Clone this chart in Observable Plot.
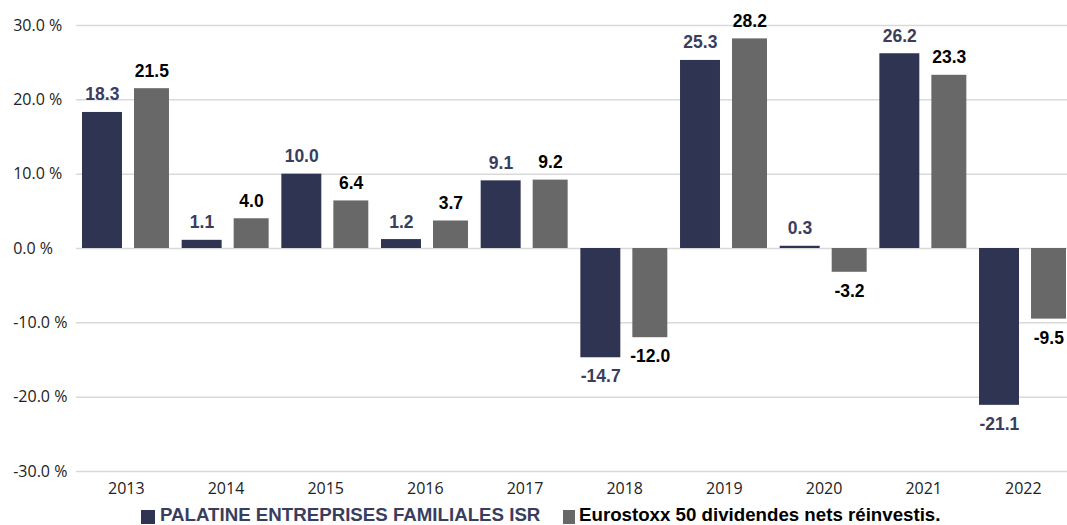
<!DOCTYPE html>
<html>
<head>
<meta charset="utf-8">
<script src="https://cdn.jsdelivr.net/npm/d3@7"></script>
<script src="https://cdn.jsdelivr.net/npm/@observablehq/plot@0.6"></script>
<style>
  html, body { margin: 0; padding: 0; background: #fff; overflow: hidden; }
  body { position: relative; width: 1067px; height: 525px; }
  #chart svg { display: block; }
  .item { position: absolute; top: 506px; height: 19px; line-height: 18.7px; font-family: "Liberation Sans", Arial, sans-serif; font-weight: bold; font-size: 18.7px; white-space: nowrap; }
  .sw { position: absolute; top: 510px; height: 14px; }
</style>
</head>
<body>
<div id="chart"></div>
<div id="legend"></div>
<script>
const years = ["2013","2014","2015","2016","2017","2018","2019","2020","2021","2022"];
const palatine = [18.3, 1.1, 10.0, 1.2, 9.1, -14.7, 25.3, 0.3, 26.2, -21.1];
const eurostoxx = [21.5, 4.0, 6.4, 3.7, 9.2, -12.0, 28.2, -3.2, 23.3, -9.5];
const seriesNames = ["PALATINE ENTREPRISES FAMILIALES ISR", "Eurostoxx 50 dividendes nets réinvestis."];
const yTicks = [-30, -20, -10, 0, 10, 20, 30];

const navy = "#303453";
const navyText = "#393d5e";
const grey = "#686868";

const dataP = years.map((y, i) => ({year: y, value: palatine[i]}));
const dataE = years.map((y, i) => ({year: y, value: eurostoxx[i]}));

const W = 1067, H = 500;
const step = 99.67;
const left = 76;

const labelFont = {fontFamily: "Liberation Sans, Arial, sans-serif", fontWeight: "bold", fontSize: 17.5};

const chart = Plot.plot({
  width: W,
  height: H,
  marginLeft: left,
  marginRight: 0,
  marginTop: 25,
  marginBottom: 29,
  style: {fontFamily: "Open Sans, sans-serif", fontSize: "16px", color: "#222", overflow: "hidden"},
  x: {domain: years, range: [left, left + step * years.length], padding: 0, round: false},
  y: {domain: [-30, 30]},
  marks: [
    Plot.ruleY(yTicks, {stroke: "#d9d9d9", strokeWidth: 1.5}),
    Plot.ruleX([0], {x: () => null, frameAnchor: "left", y1: -30, y2: 30, stroke: "#d9d9d9", strokeWidth: 1.5}),
    Plot.barY(dataP, {x: "year", y: "value", fill: navy, insetLeft: 6, insetRight: 53.7}),
    Plot.barY(dataE, {x: "year", y: "value", fill: grey, insetLeft: 58, insetRight: 6.7}),
    Plot.text(dataP, {x: "year", y: "value", text: d => d.value.toFixed(1), dx: -24,
      lineAnchor: "bottom", fill: navyText, ...labelFont, filter: d => d.value >= 0, dy: -12}),
    Plot.text(dataP, {x: "year", y: "value", text: d => d.value.toFixed(1), dx: -24,
      lineAnchor: "top", fill: navyText, ...labelFont, filter: d => d.value < 0, dy: 12}),
    Plot.text(dataE, {x: "year", y: "value", text: d => d.value.toFixed(1), dx: 25.5,
      lineAnchor: "bottom", fill: "#000", ...labelFont, filter: d => d.value >= 0, dy: -12}),
    Plot.text(dataE, {x: "year", y: "value", text: d => d.value.toFixed(1), dx: 25.5,
      lineAnchor: "top", fill: "#000", ...labelFont, filter: d => d.value < 0, dy: 12}),
    Plot.axisX({tickSize: 0, tickPadding: 11, label: null, fill: "#222"}),
    Plot.axisY({ticks: yTicks, tickSize: 0, tickPadding: 0, textAnchor: "start", dx: -63.3,
      tickFormat: d => d.toFixed(1) + " %", label: null, fill: "#222"})
  ]
});
document.getElementById("chart").appendChild(chart);

const legend = document.getElementById("legend");
const items = [
  {name: seriesNames[0], color: navy, text: navyText, sx: 141, sw: 14, tx: 160},
  {name: seriesNames[1], color: grey, text: "#000", sx: 563, sw: 12, tx: 579}
];
for (const it of items) {
  const s = document.createElement("div");
  s.className = "sw";
  s.style.left = it.sx + "px";
  s.style.width = it.sw + "px";
  s.style.background = it.color;
  const t = document.createElement("div");
  t.className = "item";
  t.style.left = it.tx + "px";
  t.style.color = it.text;
  t.textContent = it.name;
  legend.appendChild(s);
  legend.appendChild(t);
}
</script>
</body>
</html>
